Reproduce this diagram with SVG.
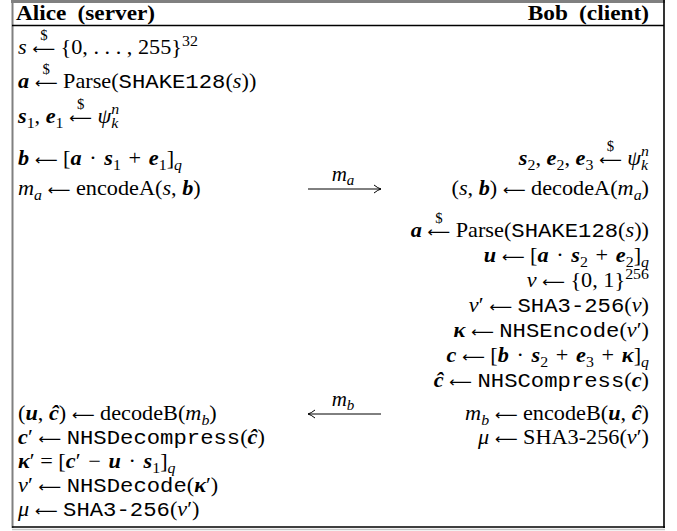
<svg xmlns="http://www.w3.org/2000/svg" width="677" height="531" viewBox="0 0 677 531">
<style>
.t{font-family:"Liberation Serif","Times New Roman",serif;font-size:21px;fill:#000}
.e{text-anchor:end}
.h{font-weight:bold;font-size:22px}
.i{font-style:italic}
.bi{font-style:italic;font-weight:bold}
.m{font-family:"Liberation Mono","Courier New",monospace;font-style:normal;font-weight:normal}
.s{font-size:15px}
.d{font-size:14px}
.a{font-family:"DejaVu Sans",sans-serif;font-size:15px;font-style:normal;font-weight:normal}
.cn{stroke:#000;stroke-width:1;fill:none}
</style>
<defs>
<marker id="ah" viewBox="-8 -5 10 10" refX="0" refY="0" markerWidth="10" markerHeight="10" markerUnits="userSpaceOnUse" orient="auto">
<path d="M-7,-4 Q-3,-0.8 0,0 Q-3,0.8 -7,4" fill="none" stroke="#000" stroke-width="1"/>
</marker>
</defs>
<rect width="677" height="531" fill="#fff"/>
<g id="frame">
<line x1="11" y1="1.5" x2="665" y2="1.5" stroke="#808080" stroke-width="3"/>
<line x1="12.5" y1="0" x2="12.5" y2="528" stroke="#808080" stroke-width="2"/>
<line x1="664" y1="0" x2="664" y2="528" stroke="#000" stroke-width="1.6"/>
<line x1="12" y1="527" x2="665" y2="527" stroke="#000" stroke-width="1.6"/>
<line x1="12" y1="529.5" x2="665" y2="529.5" stroke="#c8c8c8" stroke-width="1.5"/>
<line x1="12" y1="25.5" x2="664" y2="25.5" stroke="#000" stroke-width="1.3"/>
</g>
<g id="alice" transform="matrix(1.06 0 0 1 -1.08 0)">
<text class="t h" x="16" y="20">Alice<tspan dx="5"> (server)</tspan></text>
<text class="t" x="18" y="54"><tspan class="i">s</tspan> <tspan class="a">⟵</tspan><tspan class="d" dx="-14" dy="-14">$</tspan><tspan dx="7" dy="14"> {0, . . . , 255}</tspan><tspan class="s" dy="-8">32</tspan></text>
<text class="t" x="18" y="88"><tspan class="bi">a</tspan> <tspan class="a">⟵</tspan><tspan class="d" dx="-14" dy="-14">$</tspan><tspan dx="7" dy="14"> Parse(</tspan><tspan class="m">SHAKE128</tspan>(<tspan class="i">s</tspan>))</text>
<text class="t" x="18" y="123"><tspan class="bi">s</tspan><tspan class="s" dy="5">1</tspan><tspan dy="-5">, </tspan><tspan class="bi">e</tspan><tspan class="s" dy="5">1</tspan><tspan dy="-5"> </tspan><tspan class="a">⟵</tspan><tspan class="d" dx="-14" dy="-14">$</tspan><tspan dx="7" dy="14"> </tspan><tspan class="i">ψ</tspan><tspan class="s i" dy="-9">n</tspan><tspan class="s i" dx="-7.5" dy="14">k</tspan></text>
<text class="t" x="18" y="165"><tspan class="bi">b</tspan> <tspan class="a">⟵</tspan> [<tspan class="bi">a</tspan><tspan dx="2"> · </tspan><tspan class="bi" dx="2">s</tspan><tspan class="s" dy="5">1</tspan><tspan dy="-5" dx="2"> + </tspan><tspan class="bi" dx="2">e</tspan><tspan class="s" dy="5">1</tspan><tspan dy="-5">]</tspan><tspan class="s i" dy="5">q</tspan></text>
<text class="t" x="18" y="195"><tspan class="i">m</tspan><tspan class="s i" dy="5">a</tspan><tspan dy="-5"> </tspan><tspan class="a">⟵</tspan> encodeA(<tspan class="i">s</tspan>, <tspan class="bi">b</tspan>)</text>
<text class="t" x="18" y="420">(<tspan class="bi">u</tspan>, <tspan class="bi">ĉ</tspan>) <tspan class="a">⟵</tspan> decodeB(<tspan class="i">m</tspan><tspan class="s i" dy="5">b</tspan><tspan dy="-5">)</tspan></text>
<text class="t" x="18" y="444"><tspan class="bi">c</tspan>′ <tspan class="a">⟵</tspan> <tspan class="m">NHSDecompress</tspan>(<tspan class="bi">ĉ</tspan>)</text>
<text class="t" x="18" y="468"><tspan class="bi">κ</tspan>′ = [<tspan class="bi">c</tspan>′<tspan dx="2"> − </tspan><tspan class="bi" dx="2">u</tspan><tspan dx="2"> · </tspan><tspan class="bi" dx="2">s</tspan><tspan class="s" dy="5">1</tspan><tspan dy="-5">]</tspan><tspan class="s i" dy="5">q</tspan></text>
<text class="t" x="18" y="492"><tspan class="i">ν</tspan>′ <tspan class="a">⟵</tspan> <tspan class="m">NHSDecode</tspan>(<tspan class="bi">κ</tspan>′)</text>
<text class="t" x="18" y="516"><tspan class="i">μ</tspan> <tspan class="a">⟵</tspan> <tspan class="m">SHA3-256</tspan>(<tspan class="i">ν</tspan>′)</text>
</g>
<g id="bob" transform="matrix(1.06 0 0 1 -38.94 0)">
<text class="t h e" x="649" y="20">Bob<tspan dx="5"> (client)</tspan></text>
<text class="t e" x="649" y="165"><tspan class="bi">s</tspan><tspan class="s" dy="5">2</tspan><tspan dy="-5">, </tspan><tspan class="bi">e</tspan><tspan class="s" dy="5">2</tspan><tspan dy="-5">, </tspan><tspan class="bi">e</tspan><tspan class="s" dy="5">3</tspan><tspan dy="-5"> </tspan><tspan class="a">⟵</tspan><tspan class="d" dx="-14" dy="-14">$</tspan><tspan dx="7" dy="14"> </tspan><tspan class="i">ψ</tspan><tspan class="s i" dy="-9">n</tspan><tspan class="s i" dx="-7.5" dy="14">k</tspan></text>
<text class="t e" x="649" y="195">(<tspan class="i">s</tspan>, <tspan class="bi">b</tspan>) <tspan class="a">⟵</tspan> decodeA(<tspan class="i">m</tspan><tspan class="s i" dy="5">a</tspan><tspan dy="-5">)</tspan></text>
<text class="t e" x="649" y="237"><tspan class="bi">a</tspan> <tspan class="a">⟵</tspan><tspan class="d" dx="-14" dy="-14">$</tspan><tspan dx="7" dy="14"> Parse(</tspan><tspan class="m">SHAKE128</tspan>(<tspan class="i">s</tspan>))</text>
<text class="t e" x="649" y="262"><tspan class="bi">u</tspan> <tspan class="a">⟵</tspan> [<tspan class="bi">a</tspan><tspan dx="2"> · </tspan><tspan class="bi" dx="2">s</tspan><tspan class="s" dy="5">2</tspan><tspan dy="-5" dx="2"> + </tspan><tspan class="bi" dx="2">e</tspan><tspan class="s" dy="5">2</tspan><tspan dy="-5">]</tspan><tspan class="s i" dy="5">q</tspan></text>
<text class="t e" x="649" y="287"><tspan class="i">ν</tspan> <tspan class="a">⟵</tspan> {0, 1}<tspan class="s" dy="-8">256</tspan></text>
<text class="t e" x="649" y="312"><tspan class="i">ν</tspan>′ <tspan class="a">⟵</tspan> <tspan class="m">SHA3-256</tspan>(<tspan class="i">ν</tspan>)</text>
<text class="t e" x="649" y="337"><tspan class="bi">κ</tspan> <tspan class="a">⟵</tspan> <tspan class="m">NHSEncode</tspan>(<tspan class="i">ν</tspan>′)</text>
<text class="t e" x="649" y="362"><tspan class="bi">c</tspan> <tspan class="a">⟵</tspan> [<tspan class="bi">b</tspan><tspan dx="2"> · </tspan><tspan class="bi" dx="2">s</tspan><tspan class="s" dy="5">2</tspan><tspan dy="-5" dx="2"> + </tspan><tspan class="bi" dx="2">e</tspan><tspan class="s" dy="5">3</tspan><tspan dy="-5" dx="2"> + </tspan><tspan class="bi" dx="2">κ</tspan>]<tspan class="s i" dy="5">q</tspan></text>
<text class="t e" x="649" y="387"><tspan class="bi">ĉ</tspan> <tspan class="a">⟵</tspan> <tspan class="m">NHSCompress</tspan>(<tspan class="bi">c</tspan>)</text>
<text class="t e" x="649" y="420"><tspan class="i">m</tspan><tspan class="s i" dy="5">b</tspan><tspan dy="-5"> </tspan><tspan class="a">⟵</tspan> encodeB(<tspan class="bi">u</tspan>, <tspan class="bi">ĉ</tspan>)</text>
<text class="t e" x="649" y="444"><tspan class="i">μ</tspan> <tspan class="a">⟵</tspan> SHA3-256(<tspan class="i">ν</tspan>′)</text>
</g>
<g id="connectors">
<line class="cn" x1="308" y1="189" x2="381" y2="189" marker-end="url(#ah)"/>
<text class="t" x="343" y="181" text-anchor="middle"><tspan class="i">m</tspan><tspan class="s i" dy="4">a</tspan></text>
<line class="cn" x1="381" y1="414" x2="308" y2="414" marker-end="url(#ah)"/>
<text class="t" x="343" y="406" text-anchor="middle"><tspan class="i">m</tspan><tspan class="s i" dy="4">b</tspan></text>
</g>
</svg>
